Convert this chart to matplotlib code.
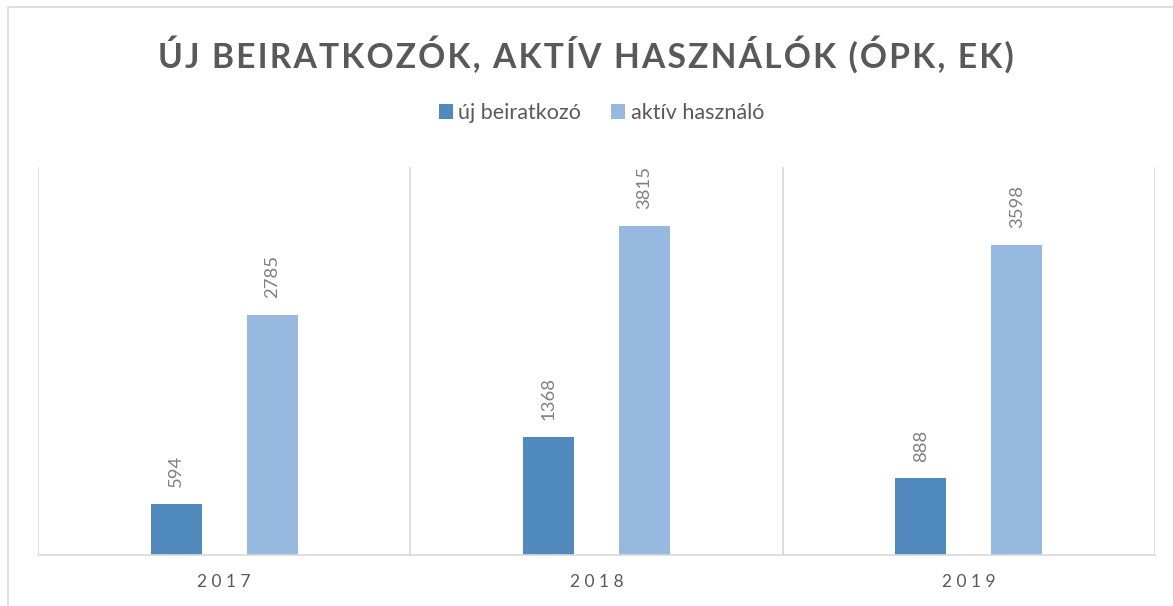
import matplotlib.pyplot as plt
import numpy as np
from matplotlib.patches import Rectangle

plt.rcParams['font.family'] = ['Lato', 'DejaVu Sans']

years = ['2017', '2018', '2019']
uj_beiratkozo = [594, 1368, 888]
aktiv_hasznalo = [2785, 3815, 3598]
series_names = ['új beiratkozó', 'aktív használó']

dark_blue = '#4F89BD'
light_blue = '#98B9DF'
grey_text = '#595959'
grid_grey = '#D9D9D9'


def spaced(s, gap='\u200a'):
    return gap.join(s)


fig = plt.figure(figsize=(11.73, 6.06), dpi=100)
fig.patches.append(Rectangle((8 / 1173, -0.05), 1.2, (606 - 7) / 606 + 0.05,
                             transform=fig.transFigure, fill=False,
                             edgecolor=grid_grey, linewidth=1.2))

ax = fig.add_axes([38 / 1173, 51 / 606, (1155 - 38) / 1173, (555 - 167) / 606])

x = np.arange(len(years))
w = 0.137
off = 0.129
b1 = ax.bar(x - off, uj_beiratkozo, w, color=dark_blue, label=series_names[0])
b2 = ax.bar(x + off, aktiv_hasznalo, w, color=light_blue, label=series_names[1])

for bars in (b1, b2):
    for rect in bars:
        h = rect.get_height()
        ax.annotate(f'{int(h)}', (rect.get_x() + rect.get_width() / 2, h),
                    xytext=(0, 12), textcoords='offset points',
                    rotation=90, ha='center', va='bottom',
                    fontsize=13.3, color='#7F7F7F')

ax.set_xlim(-0.5, len(years) - 0.5)
ax.set_ylim(0, 4500)
ax.set_yticks([])
ax.set_xticks(x)
ax.set_xticklabels([spaced(y, ' ') for y in years], fontsize=12.5, color=grey_text)
ax.tick_params(axis='x', length=0, pad=14)

for b in np.arange(-0.5, len(years), 1.0):
    ax.axvline(b, color=grid_grey, linewidth=1.2, zorder=0)

for s in ['top', 'right', 'left']:
    ax.spines[s].set_visible(False)
ax.spines['bottom'].set_color(grid_grey)
ax.spines['bottom'].set_linewidth(1.2)

fig.text(586 / 1173, 1 - 55 / 606, spaced('ÚJ BEIRATKOZÓK, AKTÍV HASZNÁLÓK (ÓPK, EK)'),
         ha='center', va='center', fontsize=24.2, fontweight='bold',
         color=grey_text)

fig.legend(loc='center', bbox_to_anchor=(601.5 / 1173, 1 - 113 / 606), ncol=2,
           frameon=False, fontsize=15.5, labelcolor=grey_text,
           handlelength=0.65, handleheight=0.65, handletextpad=0.25,
           columnspacing=1.4)

fig.savefig('out.png', dpi=100)
